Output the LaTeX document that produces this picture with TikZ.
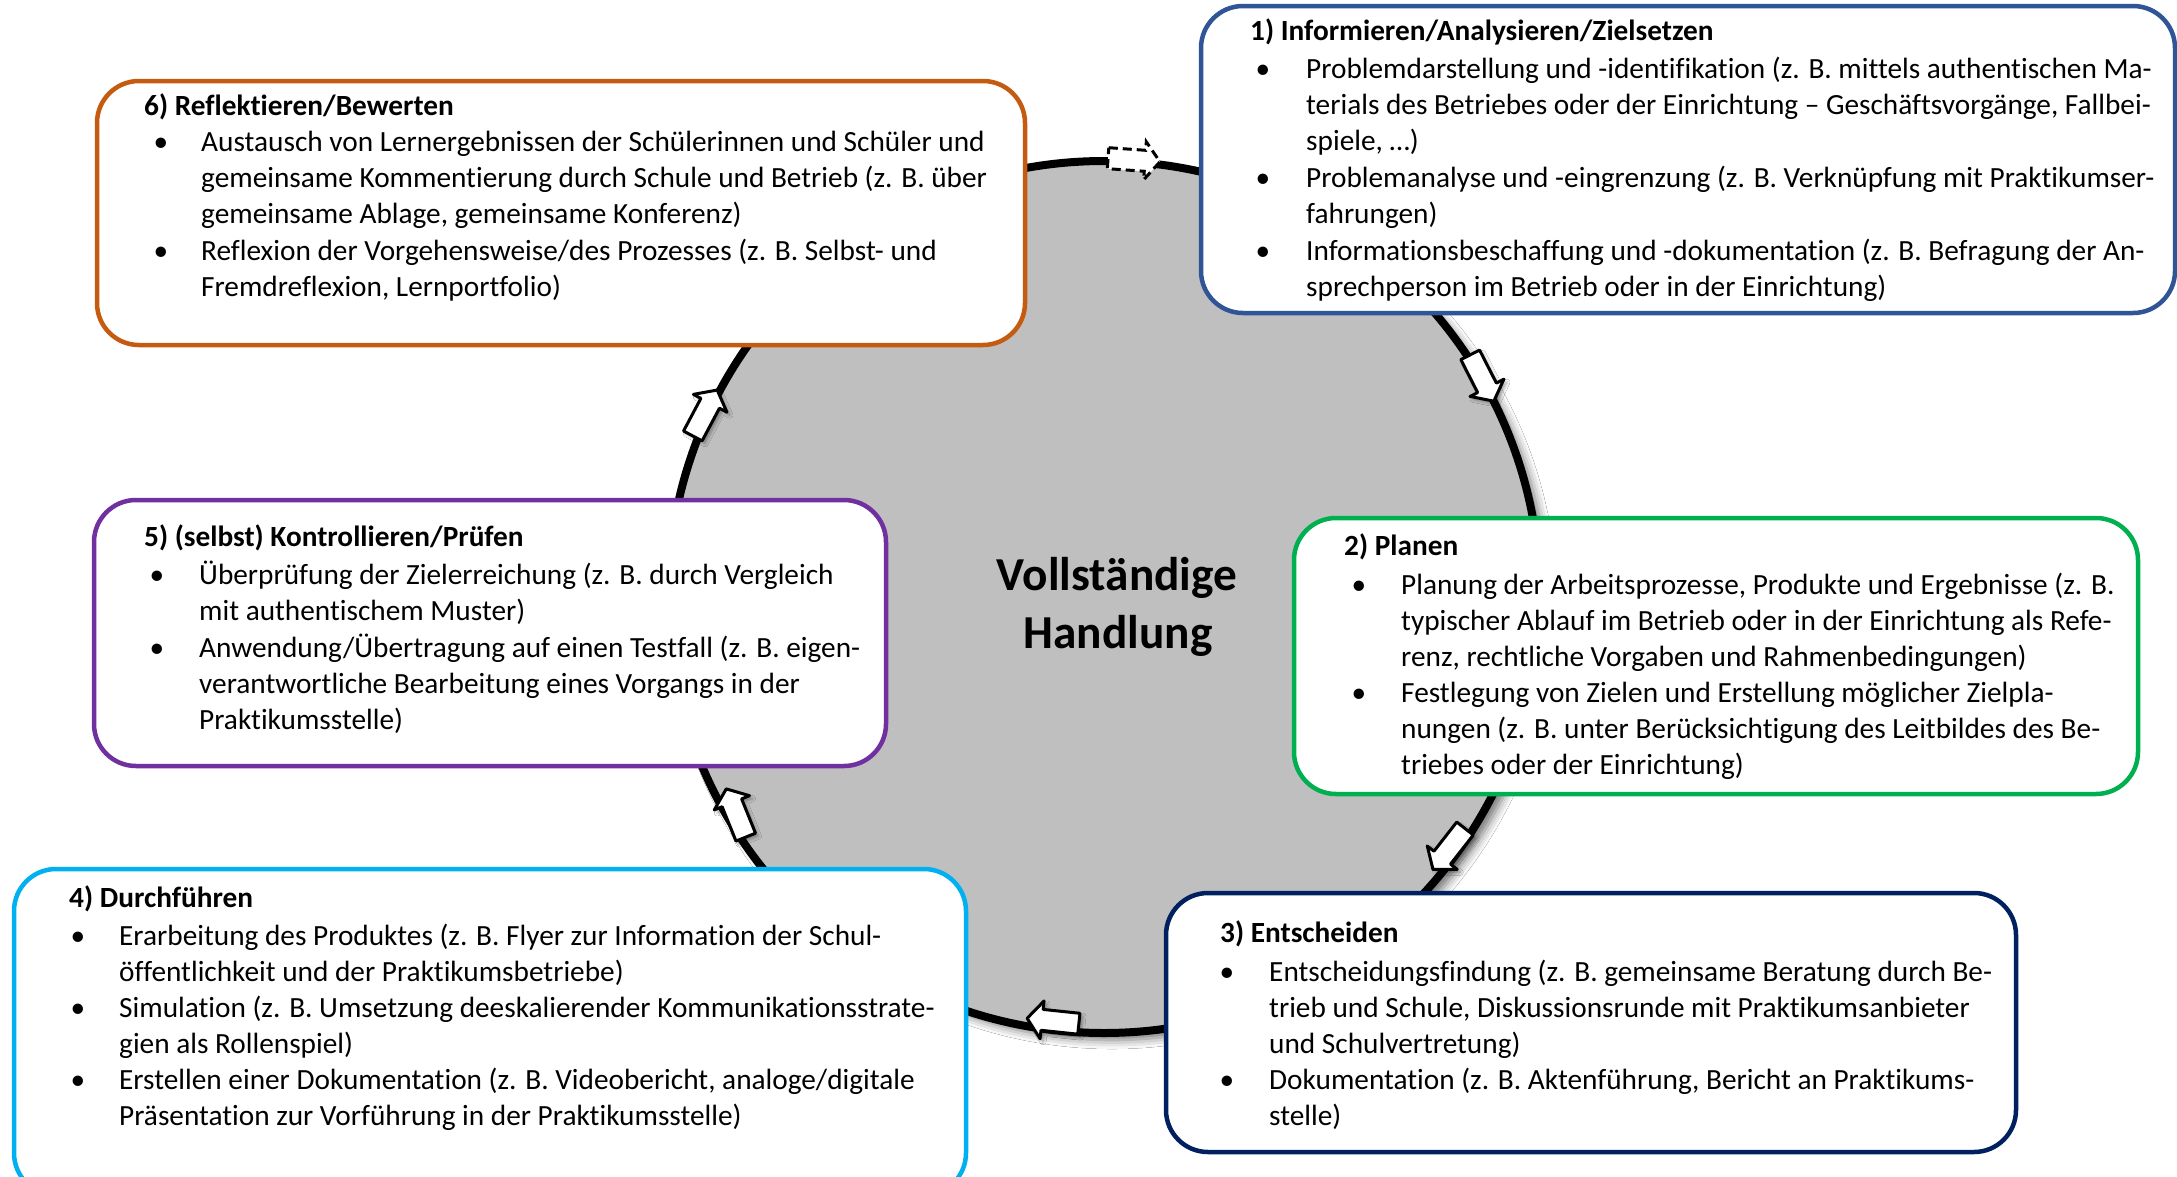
\documentclass[tikz,border=0pt]{standalone}
\usepackage{fontspec}
\setmainfont{Carlito}[Ligatures={NoCommon}]
\usetikzlibrary{shadows.blur}
\definecolor{cA}{HTML}{2F5597}
\definecolor{cB}{HTML}{00B050}
\definecolor{cC}{HTML}{002060}
\definecolor{cD}{HTML}{00B0F0}
\definecolor{cE}{HTML}{7030A0}
\definecolor{cF}{HTML}{C55A11}
\definecolor{cgray}{HTML}{BFBFBF}
\tikzset{
  bx/.style={draw, fill=white, line width=4.5pt, rounded corners=42pt, inner sep=0pt, outer sep=0pt},
  headst/.style={anchor=base west, inner sep=0pt, font=\bfseries\fontsize{29.3}{36}\selectfont},
  itemst/.style={anchor=base west, inner sep=0pt, font=\fontsize{29.3}{36}\selectfont},
  dotst/.style={anchor=base, inner sep=0pt, font=\fontsize{29.3}{36}\selectfont},
  centst/.style={anchor=base, inner sep=0pt, font=\bfseries\fontsize{47.3}{58}\selectfont, text=black},
  blockarr/.style={draw=black, fill=white, line width=3pt, line join=round,
    blur shadow={shadow xshift=3pt, shadow yshift=-3pt, shadow blur radius=3pt, shadow opacity=35}},
  dasharr/.style={draw=black, fill=white, line width=3pt, dash pattern=on 9pt off 5pt},
}
\newcommand\bitem[5]{%
  \node[dotst] (#1d) at (#2,#4) {\textbullet};
  \node[itemst] (#1) at (#3,#4) {\parbox[t]{900pt}{\raggedright #5}};}
\newcommand\blkarrow[5]{%
  \coordinate (#1) at (#2,#3);
  \begin{scope}[shift={(#1)}, rotate=#4]
    \draw[#5] (-26,-10.5) -- (11,-10.5) -- (11,-19) -- (26,0) -- (11,19) -- (11,10.5) -- (-26,10.5) -- cycle;
  \end{scope}}
\begin{document}
\begin{tikzpicture}[x=1pt,y=-1pt]
\clip (0,0) rectangle (2177,1176);
\useasboundingbox (0,0) rectangle (2177,1176);
\fill[white] (0,0) rectangle (2177,1176);

% central circle
\node[circle, draw=black, line width=8pt, fill=cgray, minimum size=872pt, inner sep=0pt,
  blur shadow={shadow xshift=8pt, shadow yshift=-7pt, shadow blur radius=9pt, shadow opacity=55}]
  (circ) at (1104,597) {};
\node[centst] (ct1) at (1117,590) {Vollständige};
\node[centst] (ct2) at (1118,648) {Handlung};

% arrows on the circle
\blkarrow{a1}{1134}{160}{-4}{dasharr}
\blkarrow{a2}{1482}{378}{-63}{blockarr}
\blkarrow{a3}{1449}{849}{-128}{blockarr}
\blkarrow{a4}{1053}{1021}{174}{blockarr}
\blkarrow{a5}{736}{813}{112}{blockarr}
\blkarrow{a6}{705}{413}{62}{blockarr}

% boxes
\node[bx, draw=cA, minimum width=974pt, minimum height=307pt] (b1) at (1688,159.5) {};
\node[bx, draw=cB, minimum width=844pt, minimum height=276pt] (b2) at (1716,656) {};
\node[bx, draw=cC, minimum width=850pt, minimum height=259pt] (b3) at (1591,1022.5) {};
\node[bx, draw=cD, minimum width=952pt, minimum height=326pt] (b4) at (490,1032) {};
\node[bx, draw=cE, minimum width=792pt, minimum height=266pt] (b5) at (490,633) {};
\node[bx, draw=cF, minimum width=928pt, minimum height=264pt] (b6) at (561,213) {};

% box 1
\node[headst] (h1) at (1250,40) {1) Informieren/Analysieren/Zielsetzen};
\bitem{i1a}{1263}{1306}{78}{Problemdarstellung und -identifikation (z. B. mittels authentischen Ma-\\terials des Betriebes oder der Einrichtung – Geschäftsvorgänge, Fallbei-\\spiele, …)}
\bitem{i1b}{1263}{1306}{187}{Problemanalyse und -eingrenzung (z. B. Verknüpfung mit Praktikumser-\\fahrungen)}
\bitem{i1c}{1263}{1306}{260}{Informationsbeschaffung und -dokumentation (z. B. Befragung der An-\\sprechperson im Betrieb oder in der Einrichtung)}

% box 2
\node[headst] (h2) at (1344,555) {2) Planen};
\bitem{i2a}{1359}{1401}{594}{Planung der Arbeitsprozesse, Produkte und Ergebnisse (z. B.\\typischer Ablauf im Betrieb oder in der Einrichtung als Refe-\\renz, rechtliche Vorgaben und Rahmenbedingungen)}
\bitem{i2b}{1359}{1401}{702}{Festlegung von Zielen und Erstellung möglicher Zielpla-\\nungen (z. B. unter Berücksichtigung des Leitbildes des Be-\\triebes oder der Einrichtung)}

% box 3
\node[headst] (h3) at (1220,942) {3) Entscheiden};
\bitem{i3a}{1227}{1269}{981}{Entscheidungsfindung (z. B. gemeinsame Beratung durch Be-\\trieb und Schule, Diskussionsrunde mit Praktikumsanbieter\\und Schulvertretung)}
\bitem{i3b}{1227}{1269}{1089}{Dokumentation (z. B. Aktenführung, Bericht an Praktikums-\\stelle)}

% box 4
\node[headst] (h4) at (69,907) {4) Durchführen};
\bitem{i4a}{78}{119}{945}{Erarbeitung des Produktes (z. B. Flyer zur Information der Schul-\\öffentlichkeit und der Praktikumsbetriebe)}
\bitem{i4b}{78}{119}{1017}{Simulation (z. B. Umsetzung deeskalierender Kommunikationsstrate-\\gien als Rollenspiel)}
\bitem{i4c}{78}{119}{1089}{Erstellen einer Dokumentation (z. B. Videobericht, analoge/digitale\\Präsentation zur Vorführung in der Praktikumsstelle)}

% box 5
\node[headst] (h5) at (144,546) {5) (selbst) Kontrollieren/Prüfen};
\bitem{i5a}{157}{199}{584}{Überprüfung der Zielerreichung (z. B. durch Vergleich\\mit authentischem Muster)}
\bitem{i5b}{157}{199}{657}{Anwendung/Übertragung auf einen Testfall (z. B. eigen-\\verantwortliche Bearbeitung eines Vorgangs in der\\Praktikumsstelle)}

% box 6
\node[headst] (h6) at (144,115) {6) Reflektieren/Bewerten};
\bitem{i6a}{161}{201}{151}{Austausch von Lernergebnissen der Schülerinnen und Schüler und\\gemeinsame Kommentierung durch Schule und Betrieb (z. B. über\\gemeinsame Ablage, gemeinsame Konferenz)}
\bitem{i6b}{161}{201}{260}{Reflexion der Vorgehensweise/des Prozesses (z. B. Selbst- und\\Fremdreflexion, Lernportfolio)}
\end{tikzpicture}
\end{document}
